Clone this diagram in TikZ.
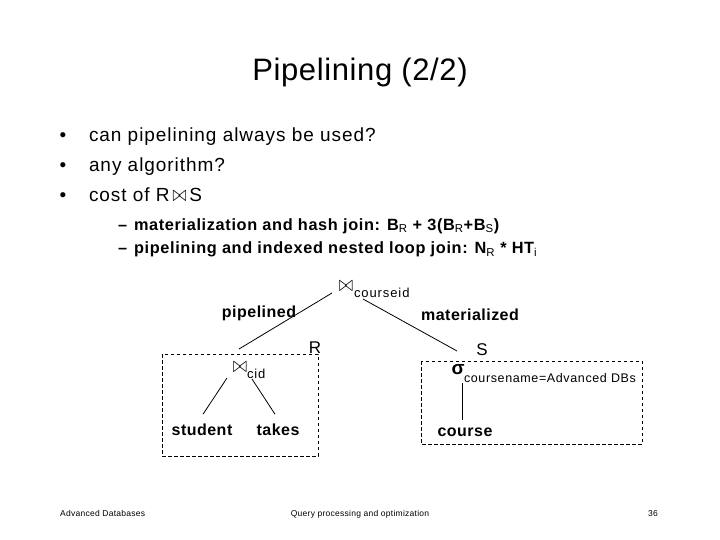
\documentclass[tikz,border=0pt]{standalone}
\usepackage{fontspec}
\usepackage{graphicx}
\setmainfont{Liberation Sans}
\newcommand\btie{\scalebox{1}[1.3]{$\bowtie$}}
\newcommand\sbr[1]{\textsubscript{\mdseries #1}}
\begin{document}
\begin{tikzpicture}[x=1pt,y=-1pt,
  txt/.style={inner sep=0pt,outer sep=0pt,anchor=base west},
  ttl/.style={inner sep=0pt,anchor=base,font=\fontsize{31}{36}\selectfont\addfontfeature{LetterSpace=2}},
  bul/.style={txt,font=\fontsize{19}{23}\selectfont\addfontfeature{LetterSpace=5}},
  subb/.style={txt,font=\bfseries\fontsize{16.3}{19}\selectfont\addfontfeature{LetterSpace=4}},
  lab/.style={inner sep=0pt,anchor=base,font=\bfseries\fontsize{16}{19}\selectfont\addfontfeature{LetterSpace=3}},
  rs/.style={inner sep=0pt,anchor=base,font=\fontsize{17}{20}\selectfont},
  bowtie/.style={inner sep=0pt,anchor=center,font=\fontsize{19}{22}\selectfont},
  subscr/.style={txt,font=\fontsize{13}{15}\selectfont\addfontfeature{LetterSpace=7}},
  subsig/.style={txt,font=\fontsize{12.5}{15}\selectfont\addfontfeature{LetterSpace=5}},
  foot/.style={inner sep=0pt,font=\fontsize{8.5}{10}\selectfont\addfontfeature{LetterSpace=3}},
  edge/.style={draw=black,line width=0.8pt},
  dbox/.style={draw=black,line width=0.9pt,dash pattern=on 3.5pt off 2.5pt}
]
\path[fill=white,use as bounding box] (0,0) rectangle (720,540);

% title
\node[ttl] (title) at (360,81) {Pipelining (2/2)};

% bullets
\node[bul,anchor=base] (b1) at (63,142) {•};
\node[bul] (t1) at (89,142) {can pipelining always be used?};
\node[bul,anchor=base] (b2) at (63,172) {•};
\node[bul] (t2) at (89,172) {any algorithm?};
\node[bul,anchor=base] (b3) at (63,202) {•};
\node[bul] (t3) at (89,202) {cost of R{\fontsize{17}{19}\selectfont\,\btie\,}S};

\node[subb] (d1) at (118,230) {–};
\node[subb] (s1) at (134,230) {materialization and hash join: B\sbr{R} + 3(B\sbr{R}+B\sbr{S})};
\node[subb] (d2) at (118,254) {–};
\node[subb] (s2) at (134,254) {pipelining and indexed nested loop join: N\sbr{R} * HT\sbr{i}};

% query tree
\node[bowtie] (J1) at (346,286) {\btie};
\node[subscr] (J1s) at (354,297) {courseid};
\node[lab] (pip) at (259,317) {pipelined};
\node[lab] (mat) at (470,320) {materialized};
\node[rs] (R) at (315,353) {R};
\node[rs] (S) at (482,355) {S};

\draw[dbox] (162,354) rectangle (318,456);
\draw[dbox] (421,361) rectangle (642,444);

\coordinate (rtop) at (239,349);
\coordinate (stop) at (457,351);

\node[bowtie] (J2) at (240,367) {\btie};
\node[subscr] (J2s) at (247,378) {cid};
\node[lab] (student) at (202,435) {student};
\node[lab] (takes) at (278,435) {takes};

\node[inner sep=0pt,anchor=center,font=\bfseries\fontsize{19}{22}\selectfont] (sig) at (458,370) {σ};
\node[subsig] (sigs) at (464,382) {coursename=Advanced DBs};
\node[lab] (course) at (465,436) {course};

\draw[edge] ([shift={(-14,7)}]J1.center) -- (rtop);
\draw[edge] ([shift={(17,13)}]J1.center) -- (stop);
\draw[edge] ([shift={(-13,11)}]J2.center) -- ([shift={(1,-9)}]student.north);
\draw[edge] ([shift={(12,12)}]J2.center) -- ([shift={(-3,-9)}]takes.north);
\draw[edge] ([shift={(4,13)}]sig.center) -- ([shift={(-3,-7)}]course.north);

% footer
\node[foot,anchor=base west] (f1) at (60,516) {Advanced Databases};
\node[foot,anchor=base] (f2) at (360,516) {Query processing and optimization};
\node[foot,anchor=base] (f3) at (653,516) {36};
\end{tikzpicture}
\end{document}
